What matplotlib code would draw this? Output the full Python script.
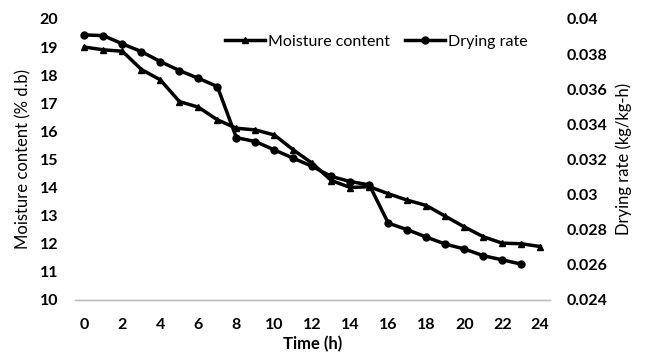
import matplotlib.pyplot as plt

# Data
time_h = list(range(25))
moisture = [19.0, 18.9, 18.85, 18.2, 17.83, 17.06, 16.86, 16.41, 16.11, 16.05,
            15.87, 15.34, 14.86, 14.25, 14.0, 14.03, 13.78, 13.55, 13.36, 12.98,
            12.6, 12.25, 12.02, 12.0, 11.9]
rate_time = list(range(24))
drying_rate = [0.03909, 0.03905, 0.03858, 0.03814, 0.03757, 0.03706, 0.03662,
               0.03615, 0.03324, 0.03302, 0.03254, 0.03207, 0.03160, 0.03103,
               0.03074, 0.03055, 0.02837, 0.02800, 0.02758, 0.02718, 0.02690,
               0.02652, 0.02628, 0.02604]

left_ticks = list(range(10, 21))
right_ticks = [0.024, 0.026, 0.028, 0.03, 0.032, 0.034, 0.036, 0.038, 0.04]
right_labels = ['0.024', '0.026', '0.028', '0.03', '0.032', '0.034', '0.036', '0.038', '0.04']
x_ticks = list(range(0, 25, 2))

plt.rcParams['font.family'] = ['Lato', 'DejaVu Sans']

fig = plt.figure(figsize=(6.46, 3.64), dpi=100)
ax = fig.add_axes([0.116, 0.176, 0.735, 0.772])
ax2 = ax.twinx()

l1, = ax.plot(time_h, moisture, color='black', lw=2.5, marker='^', ms=5,
              label='Moisture content')
l2, = ax2.plot(rate_time, drying_rate, color='black', lw=2.5, marker='o', ms=5,
               label='Drying rate')

ax.set_xlim(-0.5, 24.5)
ax.set_ylim(10, 20)
ax2.set_ylim(0.024, 0.04)
ax.set_xticks(x_ticks)
ax.set_yticks(left_ticks)
ax2.set_yticks(right_ticks)
ax2.set_yticklabels(right_labels)

for a in (ax, ax2):
    for s in ('top', 'left', 'right'):
        a.spines[s].set_visible(False)
    a.spines['bottom'].set_color('#bfbfbf')
    a.spines['bottom'].set_linewidth(1)

ax.tick_params(axis='x', length=0, pad=13, labelsize=11.5)
ax.tick_params(axis='y', length=0, pad=12, labelsize=11.5)
ax2.tick_params(axis='y', length=0, pad=12, labelsize=11.5)
for lab in ax.get_xticklabels() + ax.get_yticklabels() + ax2.get_yticklabels():
    lab.set_fontweight('bold')

ax.set_xlabel('Time (h)', fontsize=12, fontweight='bold', labelpad=3)
ax.set_ylabel('Moisture content (% d.b)', fontsize=12, labelpad=6)
ax2.set_ylabel('Drying rate (kg/kg-h)', fontsize=12, labelpad=6)

ax2.legend(handles=[l1, l2], loc='upper center', bbox_to_anchor=(0.635, 0.995),
           ncol=2, frameon=False, fontsize=11.5, handlelength=2.5,
           columnspacing=0.9, handletextpad=0.2)

fig.savefig('out.png', dpi=100)
